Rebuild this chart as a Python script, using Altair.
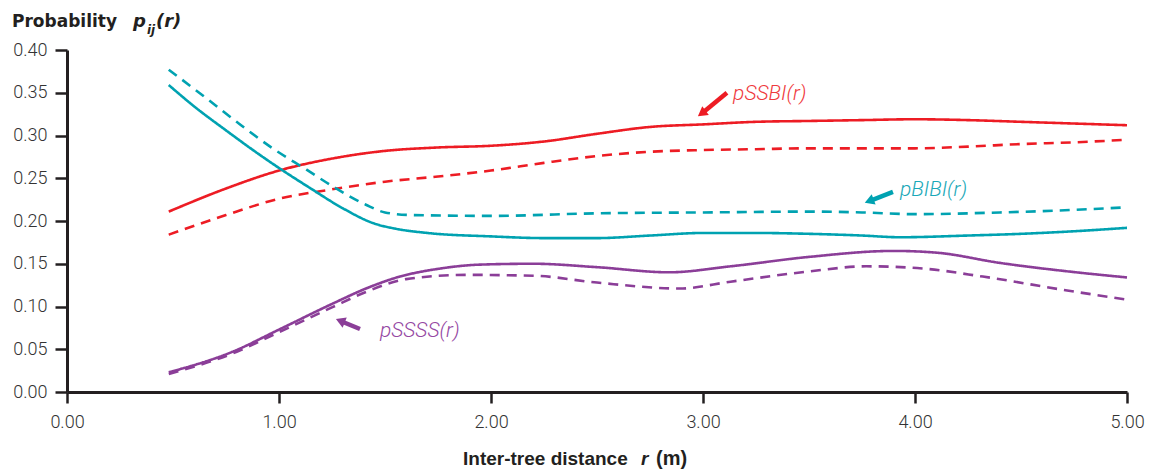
import altair as alt
import pandas as pd

# ---------------- data ----------------
SSBI_SOLID_R = [0.48, 0.75, 1.0, 1.25, 1.5, 1.75, 2.0, 2.25, 2.5, 2.75, 3.0, 3.25, 3.5, 3.75, 4.0, 4.25, 4.5, 4.75, 5.0]
SSBI_SOLID_P = [0.211, 0.238, 0.259, 0.273, 0.282, 0.286, 0.288, 0.293, 0.302, 0.310, 0.313, 0.316, 0.317, 0.318, 0.319, 0.318, 0.316, 0.314, 0.312]

SSBI_DASH_R = [0.48, 0.75, 1.0, 1.25, 1.5, 1.75, 2.0, 2.25, 2.5, 2.75, 3.0, 3.25, 3.5, 3.75, 4.0, 4.25, 4.5, 4.75, 5.0]
SSBI_DASH_P = [0.184, 0.207, 0.226, 0.237, 0.246, 0.252, 0.259, 0.268, 0.276, 0.281, 0.283, 0.284, 0.285, 0.285, 0.285, 0.287, 0.290, 0.292, 0.295]

BIBI_SOLID_R = [0.48, 0.6, 0.75, 0.9, 1.0, 1.15, 1.3, 1.45, 1.55, 1.7, 2.0, 2.25, 2.5, 2.75, 3.0, 3.25, 3.5, 3.75, 3.93, 4.25, 4.5, 4.75, 5.0]
BIBI_SOLID_P = [0.359, 0.334, 0.306, 0.279, 0.262, 0.238, 0.215, 0.197, 0.191, 0.186, 0.182, 0.180, 0.180, 0.183, 0.186, 0.186, 0.185, 0.183, 0.181, 0.183, 0.185, 0.188, 0.192]

BIBI_DASH_R = [0.48, 0.65, 0.8, 0.97, 1.13, 1.27, 1.41, 1.5, 1.62, 2.0, 2.5, 3.0, 3.5, 3.75, 4.0, 4.4, 4.75, 5.0]
BIBI_DASH_P = [0.377, 0.345, 0.316, 0.285, 0.260, 0.238, 0.219, 0.210, 0.207, 0.206, 0.209, 0.210, 0.211, 0.210, 0.208, 0.210, 0.213, 0.216]

SSSS_SOLID_R = [0.48, 0.78, 1.0, 1.25, 1.41, 1.57, 1.75, 1.95, 2.2, 2.5, 2.84, 3.13, 3.5, 3.9, 4.1, 4.4, 4.76, 5.0]
SSSS_SOLID_P = [0.023, 0.047, 0.073, 0.103, 0.121, 0.135, 0.144, 0.149, 0.150, 0.146, 0.140, 0.147, 0.158, 0.165, 0.163, 0.151, 0.140, 0.134]

SSSS_DASH_R = [0.48, 0.78, 1.0, 1.25, 1.41, 1.6, 1.88, 2.2, 2.5, 2.89, 3.13, 3.5, 3.77, 4.01, 4.32, 4.71, 5.0]
SSSS_DASH_P = [0.021, 0.045, 0.070, 0.099, 0.117, 0.132, 0.137, 0.136, 0.128, 0.121, 0.129, 0.141, 0.147, 0.145, 0.135, 0.119, 0.108]

PAIRS = ["SSBI", "BIBI", "SSSS"]
LINE_COLORS = ["#ED1C24", "#00A2B1", "#8B3E98"]
TEXT_COLORS = ["#EF3A3D", "#1AA8B8", "#9548A3"]

# annotation labels and arrows (data coordinates)
LABELS = ["pSSBI(r)", "pBIBI(r)", "pSSSS(r)"]
LABEL_R = [3.142, 3.929, 1.476]
LABEL_P = [0.3415, 0.2292, 0.064]
ARROW_TAIL_R = [3.113, 3.896, 1.382]
ARROW_TAIL_P = [0.350, 0.234, 0.0737]
ARROW_HEAD_R = [3.0, 3.791, 1.296]
ARROW_HEAD_P = [0.327, 0.2239, 0.0825]
ARROW_ANGLE = [233.5, 249, 292]

X_TICKS = [0, 1, 2, 3, 4, 5]
Y_TICKS = [0, 0.05, 0.10, 0.15, 0.20, 0.25, 0.30, 0.35, 0.40]

# ---------------- build tables ----------------
rows = []
for pair, kind, rs, ps in [
    ("SSBI", "solid", SSBI_SOLID_R, SSBI_SOLID_P),
    ("SSBI", "dashed", SSBI_DASH_R, SSBI_DASH_P),
    ("BIBI", "solid", BIBI_SOLID_R, BIBI_SOLID_P),
    ("BIBI", "dashed", BIBI_DASH_R, BIBI_DASH_P),
    ("SSSS", "solid", SSSS_SOLID_R, SSSS_SOLID_P),
    ("SSSS", "dashed", SSSS_DASH_R, SSSS_DASH_P),
]:
    for r, p in zip(rs, ps):
        rows.append({"pair": pair, "kind": kind, "series": pair + "-" + kind, "r": r, "p": p})
df = pd.DataFrame(rows)

xscale = alt.Scale(domain=[0, 5], nice=False, zero=False)
yscale = alt.Scale(domain=[0, 0.40], nice=False, zero=False)

lines = alt.Chart(df).mark_line(strokeWidth=2.6, interpolate="monotone").encode(
    x=alt.X("r:Q", scale=xscale,
            axis=alt.Axis(values=X_TICKS, format=".2f", title=None, grid=False,
                          labelPadding=10, tickSize=11, labelFlush=False)),
    y=alt.Y("p:Q", scale=yscale,
            axis=alt.Axis(values=Y_TICKS, format=".2f", title=None, grid=False,
                          labelPadding=8, tickSize=12, labelFlush=False)),
    color=alt.Color("pair:N", scale=alt.Scale(domain=PAIRS, range=LINE_COLORS), legend=None),
    strokeDash=alt.StrokeDash("kind:N", scale=alt.Scale(domain=["solid", "dashed"], range=[[1, 0], [10, 7]]),
                              legend=None),
    detail="series:N",
    order="r:Q",
)

layers = [lines]
for i, lab in enumerate(LABELS):
    adf = pd.DataFrame({"tr": [ARROW_TAIL_R[i]], "tp": [ARROW_TAIL_P[i]],
                        "hr": [ARROW_HEAD_R[i]], "hp": [ARROW_HEAD_P[i]],
                        "lr": [LABEL_R[i]], "lp": [LABEL_P[i]], "lab": [lab]})
    base = alt.Chart(adf)
    layers.append(base.mark_rule(strokeWidth=4.5, color=LINE_COLORS[i]).encode(
        x=alt.X("tr:Q", scale=xscale), y=alt.Y("tp:Q", scale=yscale), x2="hr:Q", y2="hp:Q"))
    layers.append(base.mark_point(shape="triangle", filled=True, size=120, opacity=1,
                                  angle=ARROW_ANGLE[i], color=LINE_COLORS[i]).encode(
        x=alt.X("hr:Q", scale=xscale), y=alt.Y("hp:Q", scale=yscale)))
    layers.append(base.mark_text(align="left", baseline="alphabetic", fontSize=21, fontStyle="italic",
                                 font="Roboto", fontWeight=300, color=TEXT_COLORS[i]).encode(
        x=alt.X("lr:Q", scale=xscale), y=alt.Y("lp:Q", scale=yscale), text="lab:N"))


# titles as text pieces
def txt(s, x, y, size, font, style="normal", weight="bold"):
    return alt.Chart(pd.DataFrame({"t": [s]})).mark_text(
        align="left", baseline="alphabetic", fontSize=size, fontStyle=style, fontWeight=weight,
        font=font, color="#231F20").encode(
        x=alt.value(x), y=alt.value(y), text="t:N")


TITLE_Y_PARTS = ["Probability", "p", "ij", "(r)"]
TITLE_X_PARTS = ["Inter-tree distance", "r", "(m)"]

layers += [
    txt(TITLE_Y_PARTS[0], -55, -23, 17, "DejaVu Sans"),
    txt(TITLE_Y_PARTS[1], 66, -23, 18, "DejaVu Sans", style="italic"),
    txt(TITLE_Y_PARTS[2], 80, -16, 12, "DejaVu Sans", style="italic"),
    txt(TITLE_Y_PARTS[3], 89, -23, 18, "DejaVu Sans", style="italic"),
    txt(TITLE_X_PARTS[0], 396, 415, 19, "Liberation Sans"),
    txt(TITLE_X_PARTS[1], 574, 415, 19, "Liberation Sans", style="italic"),
    txt(TITLE_X_PARTS[2], 589, 415, 20, "Liberation Sans"),
]

chart = alt.layer(*layers).properties(
    width=1060, height=342,
    autosize=alt.AutoSizeParams(type="none"),
    padding={"left": 59, "top": 42, "right": 18, "bottom": 80},
).configure_view(stroke=None).configure_axis(
    domainColor="#231F20", domainWidth=3, tickColor="#231F20", tickWidth=2.5,
    labelFont="Roboto", labelFontWeight=300, labelFontSize=18, labelColor="#333333",
)

chart.save("out.html", embed_options={"renderer": "svg", "actions": False})
